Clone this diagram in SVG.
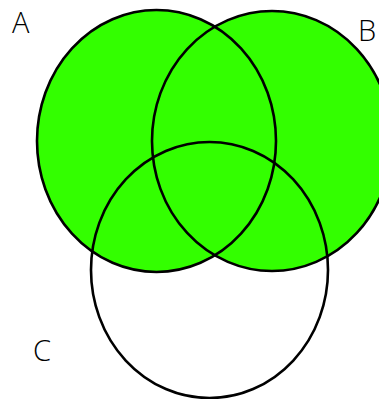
<svg xmlns="http://www.w3.org/2000/svg" width="379" height="399" viewBox="0 0 379 399">
<style>
.fill{fill:#33ff00;stroke:none}
.edge{fill:none;stroke:#000;stroke-width:2.6}
.lbl{font-family:"Open Sans","DejaVu Sans",sans-serif;font-weight:300;font-size:29px;fill:#000}
</style>
<rect width="379" height="399" fill="#fff"/>
<g id="fills">
<ellipse class="fill" cx="156.5" cy="141" rx="119.5" ry="131"/>
<ellipse class="fill" cx="272" cy="141" rx="120" ry="130"/>
</g>
<g id="A">
<ellipse class="edge" cx="156.5" cy="141" rx="119.5" ry="131"/>
<text class="lbl" x="12" y="33">A</text>
</g>
<g id="B">
<ellipse class="edge" cx="272" cy="141" rx="120" ry="130"/>
<text class="lbl" x="358" y="41">B</text>
</g>
<g id="C">
<ellipse class="edge" cx="209.5" cy="270" rx="118.5" ry="128"/>
<text class="lbl" x="33" y="361">C</text>
</g>
<g id="connectors"/>
</svg>
